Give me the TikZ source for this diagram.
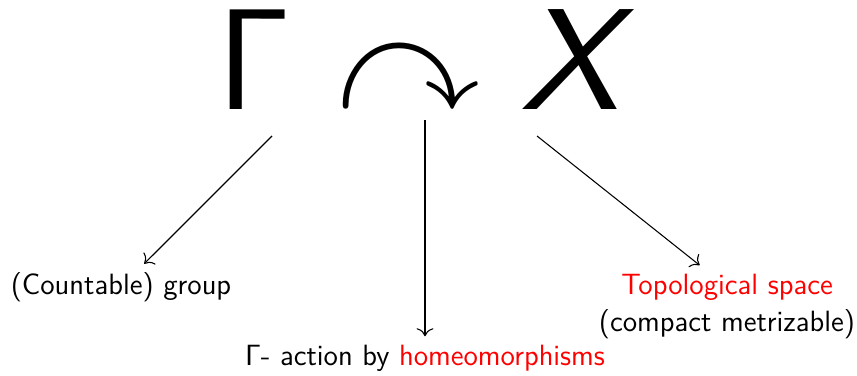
\RequirePackage{fix-cm}
\documentclass[tikz,border=0pt]{standalone}
\usepackage{amsmath}
\usepackage{amssymb}
\usetikzlibrary{positioning, arrows.meta}

\begin{document}
\begin{tikzpicture}[
    x=0.375pt, y=-0.375pt,
    font=\sffamily\fontsize{11}{13}\selectfont,
    big/.style={inner sep=0pt, anchor=base,
               font=\sffamily\fontsize{54}{60}\selectfont},
    lbl/.style={inner sep=3pt, align=center},
    ar/.style={-{To[length=3pt]}, thin},
  ]
  \useasboundingbox (0,0) rectangle (857,376);

  \node[big] (gam) at (254,110) {$\mathsf{\Gamma}$};
  \node[big] (act) at (408,110) {$\curvearrowright$};
  \node[big, xscale=1.1] (spc) at (570,110) {\slshape X};

  \coordinate (gam-s) at (272,136);
  \coordinate (act-s) at (425,120);
  \coordinate (spc-s) at (537,136);

  \node[lbl] (grp) at (121,287) {(Countable) group};
  \node[lbl] (hom) at (425,358) {$\mathsf{\Gamma}$- action by \textcolor{red}{homeomorphisms}};
  \node[lbl, text=red] (top) at (727,287) {Topological space};
  \node[lbl, below=-3pt of top] (cmp) {(compact metrizable)};

  \draw[ar] (gam-s) -- (grp);
  \draw[ar] (act-s) -- (hom);
  \draw[ar] (spc-s) -- (top);
\end{tikzpicture}
\end{document}
